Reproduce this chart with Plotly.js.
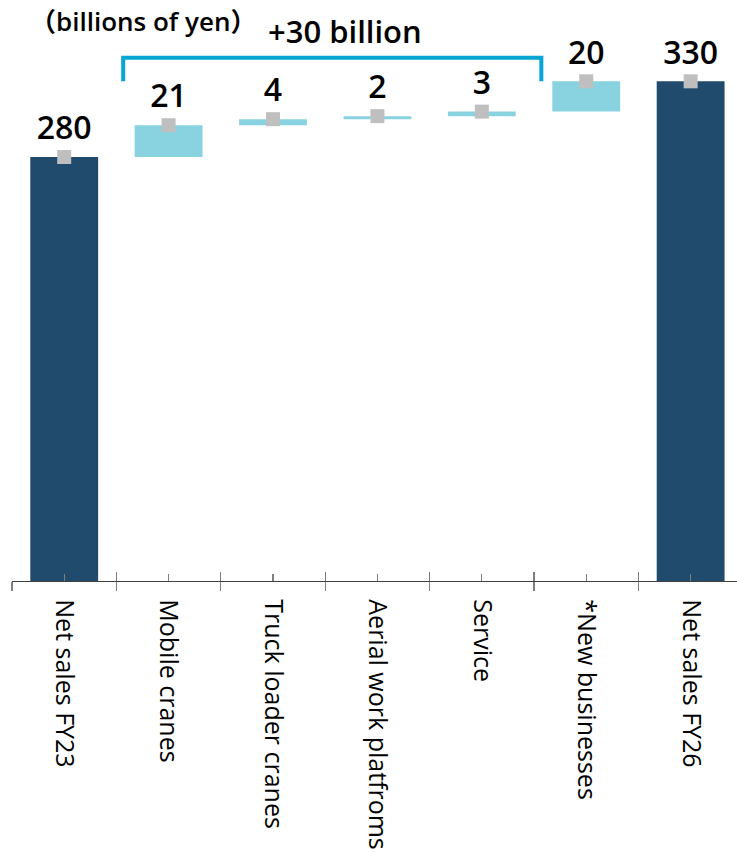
<!DOCTYPE html>
<html>
<head>
<meta charset="utf-8">
<script src="https://cdn.plot.ly/plotly-3.0.1.min.js"></script>
<style>html,body{margin:0;padding:0;background:#fff;}#chart{width:737px;height:852px;}</style>
</head>
<body>
<div id="chart"></div>
<script>
// ---- data ----
const categories = ["Net sales FY23", "Mobile cranes", "Truck loader cranes", "Aerial work platfroms", "Service", "*New businesses", "Net sales FY26"];
const values = [280, 21, 4, 2, 3, 20, 330];
const measures = ["absolute", "relative", "relative", "relative", "relative", "relative", "total"];
const valueLabels = ["280", "21", "4", "2", "3", "20", "330"];
const unitLabel = "（billions of yen）";
const bracketLabel = "+30 billion";

// running tops of each bar (cumulative)
const tops = [];
let run = 0;
for (let i = 0; i < values.length; i++) {
  if (measures[i] === "absolute") run = values[i];
  else if (measures[i] === "relative") run += values[i];
  tops.push(run);
}

const FONT = "Open Sans, Noto Sans, Noto Sans CJK JP, sans-serif";
const idx = categories.map((_, i) => i);
const boundaries = idx.map(i => i - 0.5).concat([categories.length - 0.5]);

const traces = [
  {
    type: "waterfall",
    x: categories,
    y: values,
    measure: measures,
    width: 0.65,
    textinfo: "none",
    hoverinfo: "x+y",
    increasing: { marker: { color: "#89d3e1" } },
    decreasing: { marker: { color: "#89d3e1" } },
    totals: { marker: { color: "#214b6c" } },
    connector: { visible: false },
    showlegend: false
  },
  {
    type: "scatter",
    mode: "markers",
    x: categories,
    y: tops,
    marker: { symbol: "square", size: 14, color: "#bfbfbf" },
    hoverinfo: "skip",
    showlegend: false,
    cliponaxis: false
  },
  {
    type: "scatter",
    mode: "markers+text",
    x: categories,
    y: tops,
    text: valueLabels,
    textposition: "top center",
    textfont: { family: FONT, size: 32, color: "#000", weight: 600 },
    marker: { size: 14, opacity: 0 },
    hoverinfo: "skip",
    showlegend: false,
    cliponaxis: false
  },
  {
    type: "scatter",
    mode: "markers",
    x: [0], y: [0],
    xaxis: "x2",
    marker: { opacity: 0 },
    hoverinfo: "skip",
    showlegend: false
  }
];

const xr = [-0.5, 6.444];
const bx0 = 0.565, bx1 = 4.57, byTop = 345.5, byBot = 330;

const layout = {
  width: 737,
  height: 852,
  margin: { l: 12, r: 0, t: 20, b: 271 },
  paper_bgcolor: "#fff",
  plot_bgcolor: "#fff",
  font: { family: FONT, color: "#000" },
  xaxis: {
    type: "category",
    range: xr,
    tickson: "boundaries",
    ticks: "outside",
    ticklen: 9,
    tickwidth: 1.3,
    tickcolor: "#7f7f7f",
    tickangle: 90,
    tickfont: { family: FONT, size: 25, color: "#000" },
    ticklabelstandoff: 12,
    showline: true,
    linecolor: "#404040",
    linewidth: 1.3,
    showgrid: false,
    zeroline: false,
    fixedrange: true
  },
  xaxis2: {
    type: "linear",
    overlaying: "x",
    anchor: "y",
    side: "bottom",
    range: xr,
    tickmode: "array",
    tickvals: boundaries,
    ticks: "inside",
    ticklen: 9,
    tickwidth: 1.3,
    tickcolor: "#7f7f7f",
    showticklabels: false,
    showline: false,
    showgrid: false,
    zeroline: false,
    minor: { tickmode: "array", tickvals: idx, ticks: "inside", ticklen: 7, tickwidth: 1.3, tickcolor: "#7f7f7f", showgrid: false },
    fixedrange: true
  },
  yaxis: {
    range: [0, 370.5],
    visible: false,
    showgrid: false,
    zeroline: false,
    fixedrange: true
  },
  shapes: [
    {
      type: "path",
      xref: "x", yref: "y",
      path: `M ${bx0} ${byBot} L ${bx0} ${byTop} L ${bx1} ${byTop} L ${bx1} ${byBot}`,
      line: { color: "#06a6d4", width: 4 }
    }
  ],
  annotations: [
    {
      text: bracketLabel,
      xref: "x", yref: "y",
      x: 2.69, y: 363.5,
      xanchor: "center", yanchor: "middle",
      showarrow: false,
      font: { family: FONT, size: 31, color: "#000", weight: 600 }
    },
    {
      text: unitLabel,
      xref: "paper", yref: "paper",
      x: 0.022, y: 0.998,
      xanchor: "left", yanchor: "middle",
      showarrow: false,
      font: { family: FONT, size: 26, color: "#000", weight: 600 }
    }
  ],
  showlegend: false
};

Plotly.newPlot("chart", traces, layout, { displayModeBar: false, staticPlot: true });
</script>
</body>
</html>
